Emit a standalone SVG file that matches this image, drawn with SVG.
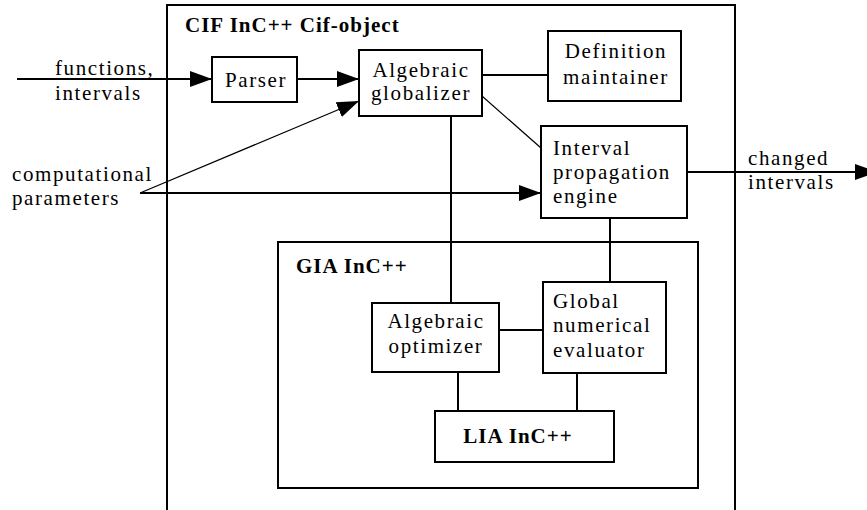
<svg xmlns="http://www.w3.org/2000/svg" width="867" height="510" viewBox="0 0 867 510">
<style>
.box{fill:#fff;stroke:#000;stroke-width:2}
.frame{fill:none;stroke:#000;stroke-width:2}
.ln{fill:none;stroke:#000;stroke-width:2}
.thin{fill:none;stroke:#000;stroke-width:1.2}
text{font-family:"Liberation Serif","Times New Roman",serif;font-size:21px;letter-spacing:1.6px;fill:#000}
.b{font-weight:bold;letter-spacing:1px}
.m{text-anchor:middle}
</style>
<defs>
<marker id="ah" markerUnits="userSpaceOnUse" markerWidth="24" markerHeight="18" refX="22" refY="8" orient="auto" viewBox="0 0 24 16">
<path d="M0,0 L22,8 L0,16 Z" fill="#000"/>
</marker>
</defs>
<rect width="867" height="510" fill="#fff"/>
<g id="cif-object">
<rect class="frame" x="167" y="5" width="568" height="515"/>
<text class="b" x="185" y="32">CIF InC++ Cif-object</text>
</g>
<g id="gia">
<rect class="frame" x="278" y="242" width="420" height="246"/>
<text class="b" x="296" y="273">GIA InC++</text>
</g>
<g id="connectors">
<line class="ln" x1="17" y1="79" x2="212" y2="79" marker-end="url(#ah)"/>
<line class="ln" x1="297" y1="79" x2="359" y2="79" marker-end="url(#ah)"/>
<line class="thin" x1="140" y1="193" x2="359" y2="101" marker-end="url(#ah)"/>
<line class="ln" x1="140" y1="193" x2="541" y2="193" marker-end="url(#ah)"/>
<line class="ln" x1="482" y1="75" x2="548" y2="75"/>
<line class="thin" x1="482" y1="96" x2="541" y2="148"/>
<line class="ln" x1="687" y1="172" x2="877" y2="172" marker-end="url(#ah)"/>
<line class="ln" x1="451" y1="116" x2="451" y2="303"/>
<line class="ln" x1="610" y1="218" x2="610" y2="282"/>
<line class="ln" x1="499" y1="330" x2="543" y2="330"/>
<line class="ln" x1="458" y1="372" x2="458" y2="411"/>
<line class="ln" x1="577" y1="373" x2="577" y2="411"/>
</g>
<g id="inputs">
<text x="55" y="75">functions,</text>
<text x="55" y="100">intervals</text>
<text x="12" y="181">computational</text>
<text x="12" y="205">parameters</text>
</g>
<g id="outputs">
<text x="748" y="165">changed</text>
<text x="748" y="189">intervals</text>
</g>
<g id="parser">
<rect class="box" x="212" y="57" width="85" height="45"/>
<text class="m" x="256" y="87">Parser</text>
</g>
<g id="algebraic-globalizer">
<rect class="box" x="359" y="50" width="123" height="66"/>
<text class="m" x="421" y="77">Algebraic</text>
<text class="m" x="421" y="100">globalizer</text>
</g>
<g id="definition-maintainer">
<rect class="box" x="548" y="31" width="133" height="70"/>
<text class="m" x="616" y="58">Definition</text>
<text class="m" x="616" y="84">maintainer</text>
</g>
<g id="interval-propagation-engine">
<rect class="box" x="541" y="126" width="146" height="92"/>
<text x="553" y="155">Interval</text>
<text x="553" y="179">propagation</text>
<text x="553" y="203">engine</text>
</g>
<g id="algebraic-optimizer">
<rect class="box" x="372" y="303" width="127" height="69"/>
<text class="m" x="436" y="328">Algebraic</text>
<text class="m" x="436" y="353">optimizer</text>
</g>
<g id="global-numerical-evaluator">
<rect class="box" x="543" y="282" width="123" height="91"/>
<text x="553" y="308">Global</text>
<text x="553" y="332">numerical</text>
<text x="553" y="357">evaluator</text>
</g>
<g id="lia">
<rect class="box" x="435" y="411" width="179" height="51"/>
<text class="b m" x="518" y="443">LIA InC++</text>
</g>
</svg>
